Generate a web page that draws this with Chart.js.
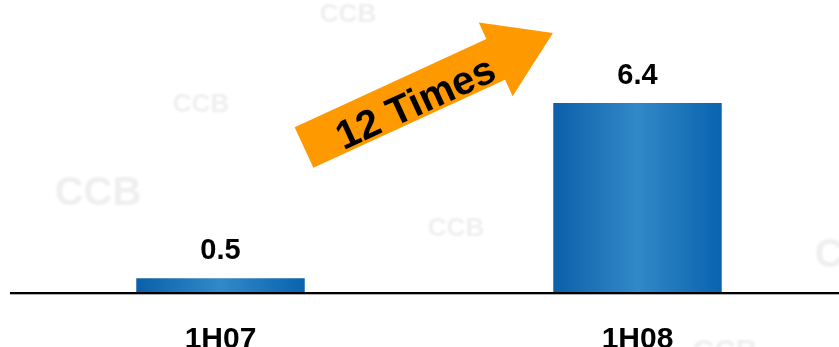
<!DOCTYPE html>
<html>
<head>
<meta charset="utf-8">
<script src="https://cdn.jsdelivr.net/npm/chart.js@4/dist/chart.umd.min.js"></script>
<style>
  html, body { margin: 0; padding: 0; background: #fff; overflow: hidden; }
  #wrap { position: absolute; left: 0; top: 0; width: 846px; height: 347px; }
</style>
</head>
<body>
<div id="wrap"><canvas id="chart" width="846" height="347"></canvas></div>
<script>
const periods = ["1H07", "1H08"];
const profit = [0.5, 6.4];
const growthLabel = "12 Times";
const watermark = "CCB";

const FONT = "Liberation Sans, Arial, sans-serif";

// faint "CCB" stamps scattered over the background
const stampPlugin = {
  id: "stamps",
  beforeDraw(chart) {
    const c = chart.ctx;
    const spots = [
      [348, 15, 26], [201, 105, 26], [98, 194, 40],
      [456, 229, 26], [858, 256, 40], [725, 352, 30]
    ];
    c.save();
    c.filter = "blur(1px)";
    c.fillStyle = "#efefef";
    c.textAlign = "center";
    c.textBaseline = "middle";
    spots.forEach(([x, y, s]) => {
      c.font = `bold ${s}px ${FONT}`;
      c.fillText(watermark, x, y);
    });
    c.restore();
  }
};

// baseline, category names, values above bars, growth arrow
const overlayPlugin = {
  id: "overlay",
  afterDatasetsDraw(chart) {
    const c = chart.ctx;
    const area = chart.chartArea;
    const xs = chart.scales.x;
    c.save();

    c.fillStyle = "#000";
    c.fillRect(10, area.bottom - 1, 839 - 10, 2);
    c.fillStyle = "#b0b0b0";
    c.fillRect(10, area.bottom + 1, 839 - 10, 1);

    c.fillStyle = "#000";
    c.textAlign = "center";
    c.textBaseline = "alphabetic";
    c.font = `bold 30px ${FONT}`;
    periods.forEach((p, i) => {
      c.fillText(p, xs.getPixelForValue(i), area.bottom + 55);
    });

    c.font = `bold 29px ${FONT}`;
    chart.getDatasetMeta(0).data.forEach((bar, i) => {
      c.fillText(profit[i].toFixed(1), bar.x, bar.y - 19);
    });

    // orange arrow pointing up-right
    const ang = -Math.atan2(114.5, 249);
    c.translate(304, 147.5);
    c.rotate(ang);
    const len = 274, head = 63, sw = 22.4, hw = 40.5;
    c.beginPath();
    c.moveTo(0, -sw);
    c.lineTo(len - head, -sw);
    c.lineTo(len - head, -hw);
    c.lineTo(len, 0);
    c.lineTo(len - head, hw);
    c.lineTo(len - head, sw);
    c.lineTo(0, sw);
    c.closePath();
    c.fillStyle = "#ff9900";
    c.fill();

    c.fillStyle = "#000";
    c.font = `bold 40px ${FONT}`;
    c.textAlign = "center";
    c.textBaseline = "middle";
    c.fillText(growthLabel, 120, 8);
    c.restore();
  }
};

function barFill(ctx) {
  const chart = ctx.chart;
  if (!chart.chartArea) return "#1c72b8";
  const xs = chart.scales.x;
  const cx = xs.getPixelForValue(ctx.dataIndex);
  const half = (xs.width / periods.length) * 0.404 / 2;
  const g = chart.ctx.createLinearGradient(cx - half, 0, cx + half, 0);
  g.addColorStop(0, "#0b5fa9");
  g.addColorStop(0.5, "#3289c8");
  g.addColorStop(1, "#0963ae");
  return g;
}

new Chart(document.getElementById("chart"), {
  type: "bar",
  data: {
    labels: periods,
    datasets: [{
      data: profit,
      backgroundColor: barFill,
      borderWidth: 0,
      categoryPercentage: 1,
      barPercentage: 0.404
    }]
  },
  options: {
    responsive: false,
    animation: false,
    layout: { padding: { left: 12, right: 0, top: 0, bottom: 54 } },
    plugins: { legend: { display: false }, tooltip: { enabled: false } },
    scales: {
      y: { display: false, min: 0, max: 9.87 },
      x: { display: false }
    }
  },
  plugins: [stampPlugin, overlayPlugin]
});
</script>
</body>
</html>
